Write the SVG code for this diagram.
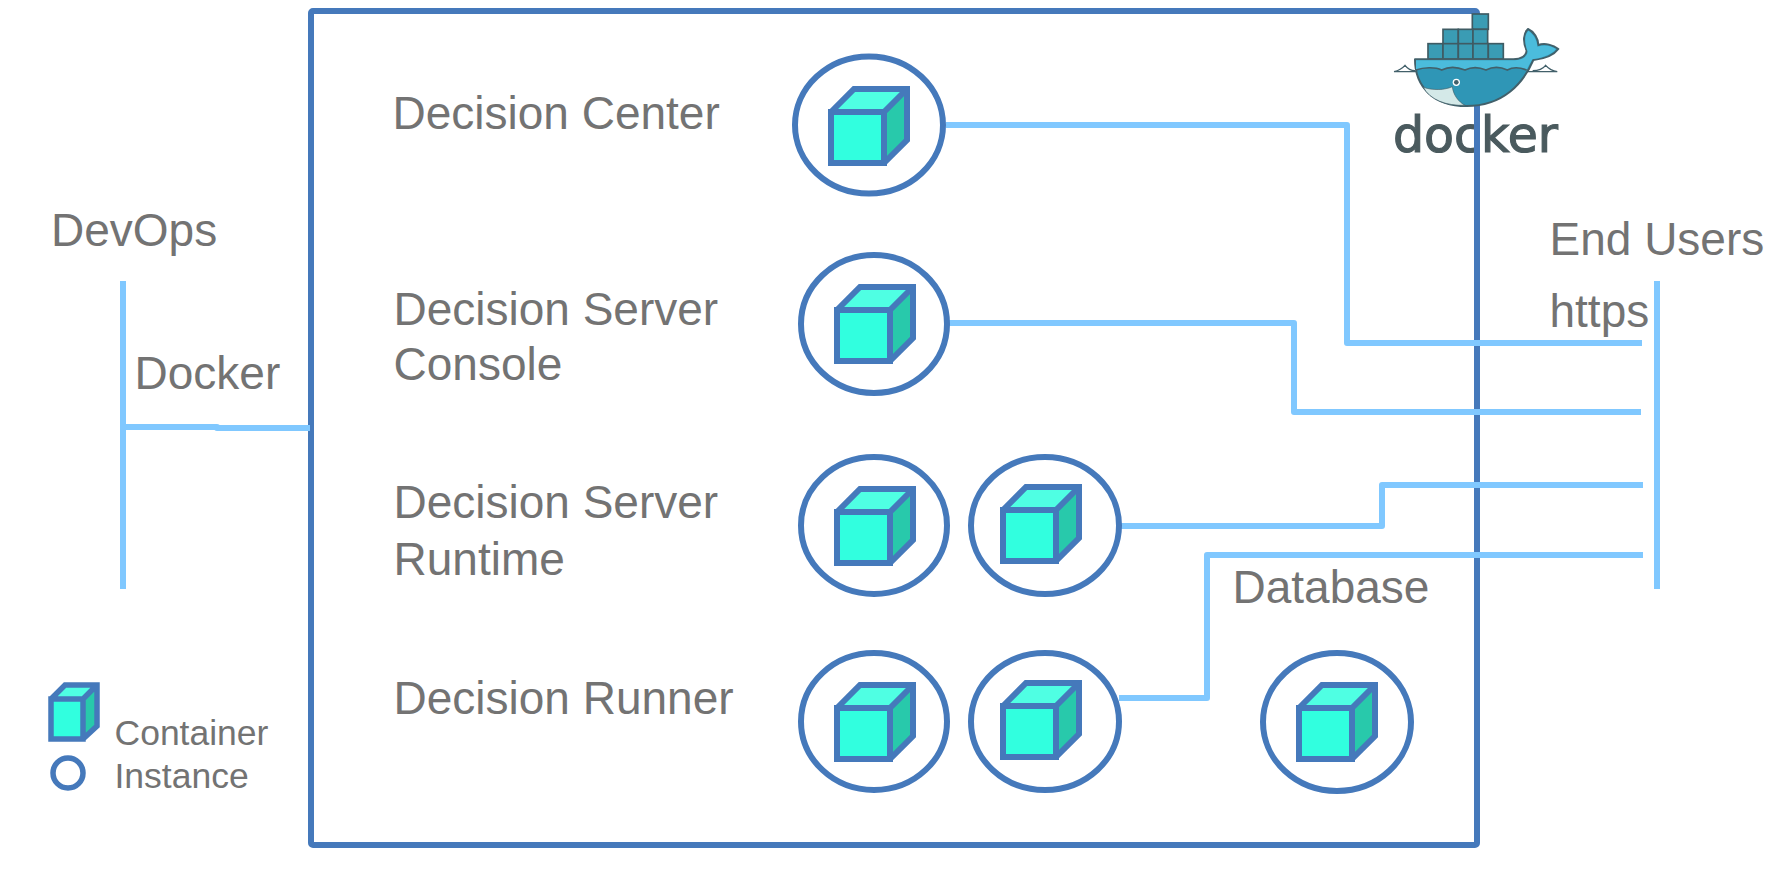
<svg xmlns="http://www.w3.org/2000/svg" width="1782" height="870" viewBox="0 0 1782 870">
<style>
text{font-family:"Liberation Sans",Arial,sans-serif;fill:#737373}
.l{font-size:46px}
.s{font-size:35.5px}
.w{fill:#fff;stroke:#4579bb;stroke-width:6}
.c{fill:none;stroke:#80c8ff;stroke-width:6;stroke-linejoin:round}
.fr{fill:#31ffdf}.to{fill:#4fffe3}.si{fill:#28c9ab}
.e{fill:none;stroke:#4579bb;stroke-width:6;stroke-linejoin:miter}
.bx{fill:#3a9cb4;stroke:#3f5b63;stroke-width:5}
</style>
<defs>
<g id="cube">
<path class="fr" d="M0 0H53V51H0Z"/>
<path class="to" d="M0 0L23 -23H76L53 0Z"/>
<path class="si" d="M53 0L76 -23V28L53 51Z"/>
<path class="e" d="M0 0H53V51H0ZM0 0L23 -23H76V28L53 51M53 0L76 -23"/>
</g>
</defs>
<text id="docker-wordmark" x="1393" y="152" font-size="50" textLength="165" lengthAdjust="spacingAndGlyphs" style="font-family:'DejaVu Sans',sans-serif;fill:#4a5a5e;stroke:#4a5a5e;stroke-width:1.200">docker</text>
<rect id="frame" x="311" y="11" width="1166" height="834" rx="2" fill="none" stroke="#4579bb" stroke-width="6" stroke-linejoin="round"/>
<g id="connectors">
<path class="c" d="M946 125H1347V343H1642"/>
<path class="c" d="M947 323H1294V412H1641"/>
<path class="c" d="M1119 526H1382V485H1643"/>
<path class="c" d="M1119 698H1207V555H1643"/>
<path class="c" d="M123 281V589"/>
<path class="c" d="M1657 281V589"/>
<path class="c" d="M123 427H217V428H310"/>
</g>
<g id="decision-center"><text class="l" x="392.500" y="129">Decision Center</text><ellipse class="w" cx="869" cy="125" rx="74" ry="68.500"/><use href="#cube" x="831" y="112"/></g>
<g id="decision-server-console"><text class="l" x="393.500" y="325">Decision Server</text><text class="l" x="393.500" y="380">Console</text><ellipse class="w" cx="874" cy="324" rx="73" ry="69"/><use href="#cube" x="837" y="310"/></g>
<g id="decision-server-runtime"><text class="l" x="393.500" y="518">Decision Server</text><text class="l" x="393.500" y="575">Runtime</text><ellipse class="w" cx="874" cy="525.500" rx="73" ry="68.500"/><use href="#cube" x="837" y="512"/><ellipse class="w" cx="1045" cy="525.500" rx="74" ry="68.500"/><use href="#cube" x="1003" y="510"/></g>
<g id="decision-runner"><text class="l" x="393.500" y="714">Decision Runner</text><ellipse class="w" cx="874" cy="721.500" rx="73" ry="68.500"/><use href="#cube" x="837" y="708"/><ellipse class="w" cx="1045" cy="721.500" rx="74" ry="68.500"/><use href="#cube" x="1003" y="706"/></g>
<g id="database"><text class="l" x="1232.500" y="603">Database</text><ellipse class="w" cx="1337" cy="722" rx="74" ry="69"/><use href="#cube" x="1299" y="708"/></g>
<g id="devops"><text class="l" x="51" y="246">DevOps</text></g>
<g id="docker-label"><text class="l" x="134.500" y="389">Docker</text></g>
<g id="end-users"><text class="l" x="1549.500" y="255">End Users</text><text class="l" x="1549.500" y="327">https</text></g>
<g id="legend"><g transform="translate(51 699)">
<path class="fr" d="M0 0H32V40H0Z"/><path class="to" d="M0 0L14 -14H46L32 0Z"/><path class="si" d="M32 0L46 -14V27L32 40Z"/>
<path class="e" d="M0 0H32V40H0ZM0 0L14 -14H46V27L32 40M32 0L46 -14" style="stroke-width:5.500"/></g>
<circle cx="68" cy="773" r="15" fill="#fff" stroke="#4579bb" stroke-width="5.500"/><text class="s" x="114.500" y="745">Container</text><text class="s" x="114.500" y="788">Instance</text></g>
<g id="docker-logo" transform="translate(1370 0) scale(.3333)">
<g class="bl">
<rect class="bx" x="307" y="42" width="48" height="46"/>
<rect class="bx" x="219" y="88" width="46" height="45"/><rect class="bx" x="265" y="88" width="44" height="45"/><rect class="bx" x="309" y="88" width="44" height="45"/>
<rect class="bx" x="174" y="131" width="45" height="46"/><rect class="bx" x="219" y="131" width="46" height="46"/><rect class="bx" x="265" y="131" width="44" height="46"/><rect class="bx" x="309" y="131" width="46" height="46"/><rect class="bx" x="355" y="131" width="45" height="46"/>
</g>
<path d="M72 215C85 212 98 204 105 196C112 205 124 212 135 212M488 212C505 212 520 205 527 196C535 205 548 213 562 215M72 215H562" fill="none" stroke="#42606a" stroke-width="4"/>
<path d="M135 178H430C450 178 468 170 470 152C458 125 460 100 474 87C492 95 505 115 505 135C525 128 550 135 565 147C548 170 510 178 490 180C460 250 400 318 290 318C190 318 135 260 135 178Z" fill="#2f96b6" stroke="#42606a" stroke-width="6" stroke-linejoin="round"/>
<path d="M138 181H430C450 181 470 175 473 155C462 125 464 105 475 92C490 102 502 120 502 140C525 132 545 138 558 147C545 165 510 175 487 178C480 190 475 200 470 210C450 202 430 200 412 210C390 200 368 200 348 210C325 200 305 200 285 210C260 200 235 200 215 210C195 200 160 202 138 210Z" fill="#4bbcdc"/>
<path d="M138 210C160 202 195 200 215 210C235 200 260 200 285 210C305 200 325 200 348 210C368 200 390 200 412 210C430 200 450 202 470 210" fill="none" stroke="#42606a" stroke-width="5"/>
<path d="M160 262C190 272 225 270 247 260C250 285 265 305 285 316C230 318 180 300 160 262Z" fill="#d4e9e8" stroke="#42606a" stroke-width="2"/>
<circle cx="259" cy="247" r="11" fill="#fff"/><circle cx="259" cy="247" r="7" fill="#42606a"/>
</g>
</svg>
